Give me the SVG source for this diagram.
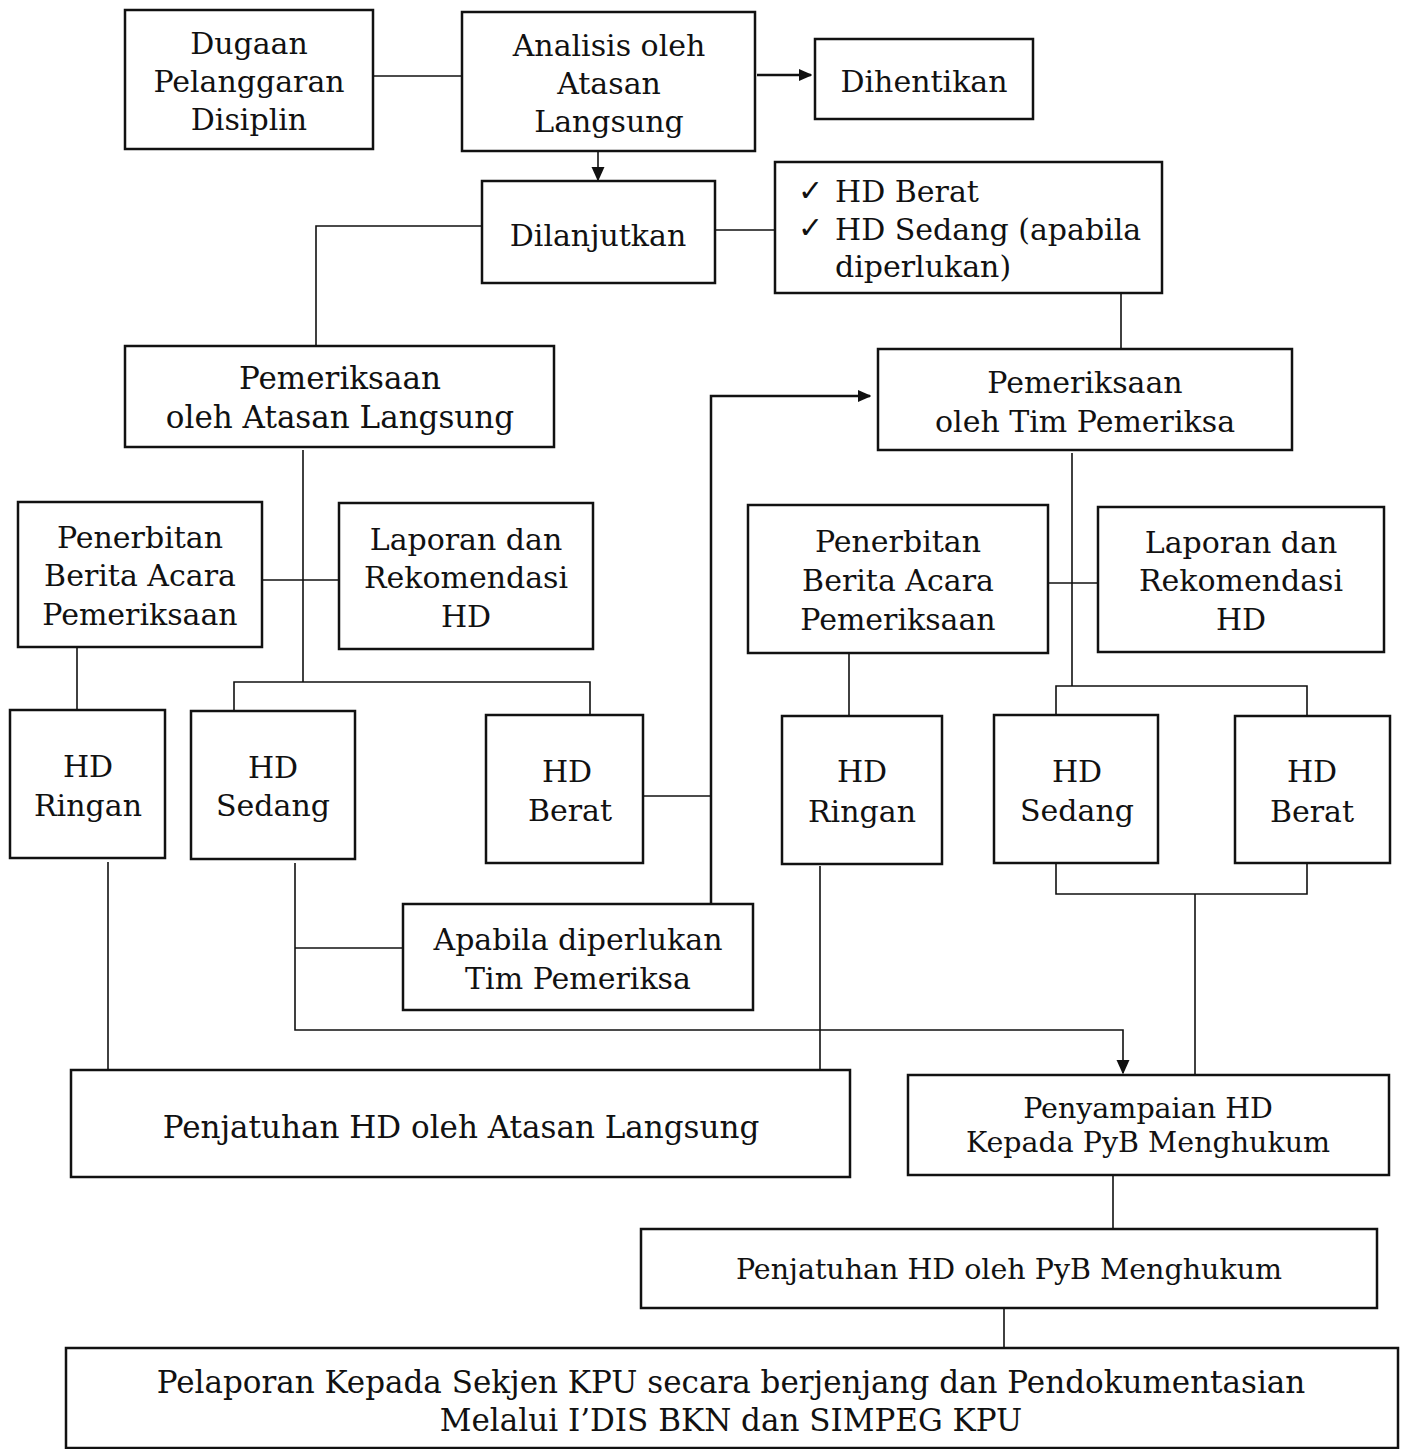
<svg xmlns="http://www.w3.org/2000/svg" width="1405" height="1449" viewBox="0 0 1405 1449">
<style>
.b{fill:#fff;stroke:#111;stroke-width:2.5}
.t{font-family:"DejaVu Serif","Liberation Serif",serif;font-size:30px;fill:#111;text-anchor:middle}
.s{font-size:28.5px}
.l{font-size:31px}
.c{fill:none;stroke:#111;stroke-width:1.6}
.a{fill:none;stroke:#111;stroke-width:2.5}
</style>
<defs>
<marker id="ar" viewBox="0 0 10 10" refX="9" refY="5" markerWidth="5.5" markerHeight="5.5" orient="auto" markerUnits="strokeWidth">
<path d="M0,0.5 L10,5 L0,9.5 z" fill="#111"/>
</marker>
<marker id="ar2" viewBox="0 0 10 10" refX="9" refY="5" markerWidth="9" markerHeight="9" orient="auto" markerUnits="strokeWidth">
<path d="M0,0.5 L10,5 L0,9.5 z" fill="#111"/>
</marker>
</defs>
<rect width="1405" height="1449" fill="#fff"/>
<g id="connectors">
<path class="c" d="M373,76 H462"/>
<path class="a" d="M757,75 H811" marker-end="url(#ar)"/>
<path class="c" d="M598,151 V180" marker-end="url(#ar2)"/>
<path class="c" d="M482,226 H316 V346"/>
<path class="c" d="M715,230 H775"/>
<path class="c" d="M1121,293 V349"/>
<path class="c" d="M303,450 V682"/>
<path class="c" d="M262,580 H339"/>
<path class="c" d="M234,711 V682 H590 V715"/>
<path class="c" d="M77,647 V710"/>
<path class="c" d="M643,796 H711"/>
<path class="a" d="M711,904 V396 H870" marker-end="url(#ar)"/>
<path class="c" d="M295,863 V1030 H1123 V1073" marker-end="url(#ar2)"/>
<path class="c" d="M295,948 H403"/>
<path class="c" d="M108,862 V1070"/>
<path class="c" d="M820,866 V1072"/>
<path class="c" d="M1072,453 V686"/>
<path class="c" d="M1048,583 H1098"/>
<path class="c" d="M1056,715 V686 H1307 V716"/>
<path class="c" d="M849,653 V716"/>
<path class="c" d="M1056,863 V894 H1307 V863"/>
<path class="c" d="M1195,894 V1075"/>
<path class="c" d="M1113,1175 V1229"/>
<path class="c" d="M1004,1308 V1348"/>
</g>
<g id="n1"><rect class="b" x="125" y="10" width="248" height="139"/><text class="t" x="249" y="54">Dugaan</text><text class="t" x="249" y="92">Pelanggaran</text><text class="t" x="249" y="130">Disiplin</text></g>
<g id="n2"><rect class="b" x="462" y="12" width="293" height="139"/><text class="t" x="609" y="56">Analisis oleh</text><text class="t" x="609" y="94">Atasan</text><text class="t" x="609" y="132">Langsung</text></g>
<g id="n3"><rect class="b" x="815" y="39" width="218" height="80"/><text class="t" x="924" y="92">Dihentikan</text></g>
<g id="n4"><rect class="b" x="482" y="181" width="233" height="102"/><text class="t" x="598" y="246">Dilanjutkan</text></g>
<g id="n5"><rect class="b" x="775" y="162" width="387" height="131"/>
<text class="t" x="810" y="201">✓</text><text class="t" x="835" y="202" style="text-anchor:start">HD Berat</text>
<text class="t" x="810" y="238">✓</text><text class="t" x="835" y="240" style="text-anchor:start">HD Sedang (apabila</text>
<text class="t" x="835" y="277" style="text-anchor:start">diperlukan)</text></g>
<g id="n6"><rect class="b" x="125" y="346" width="429" height="101"/><text class="t l" x="340" y="389">Pemeriksaan</text><text class="t l" x="340" y="428">oleh Atasan Langsung</text></g>
<g id="n7"><rect class="b" x="878" y="349" width="414" height="101"/><text class="t" x="1085" y="393">Pemeriksaan</text><text class="t" x="1085" y="432">oleh Tim Pemeriksa</text></g>
<g id="n8"><rect class="b" x="18" y="502" width="244" height="145"/><text class="t" x="140" y="548">Penerbitan</text><text class="t" x="140" y="586">Berita Acara</text><text class="t" x="140" y="625">Pemeriksaan</text></g>
<g id="n9"><rect class="b" x="339" y="503" width="254" height="146"/><text class="t" x="466" y="550">Laporan dan</text><text class="t" x="466" y="588">Rekomendasi</text><text class="t" x="466" y="627">HD</text></g>
<g id="n10"><rect class="b" x="748" y="505" width="300" height="148"/><text class="t" x="898" y="552">Penerbitan</text><text class="t" x="898" y="591">Berita Acara</text><text class="t" x="898" y="630">Pemeriksaan</text></g>
<g id="n11"><rect class="b" x="1098" y="507" width="286" height="145"/><text class="t" x="1241" y="553">Laporan dan</text><text class="t" x="1241" y="591">Rekomendasi</text><text class="t" x="1241" y="630">HD</text></g>
<g id="n12"><rect class="b" x="10" y="710" width="155" height="148"/><text class="t" x="88" y="777">HD</text><text class="t" x="88" y="816">Ringan</text></g>
<g id="n13"><rect class="b" x="191" y="711" width="164" height="148"/><text class="t" x="273" y="778">HD</text><text class="t" x="273" y="816">Sedang</text></g>
<g id="n14"><rect class="b" x="486" y="715" width="157" height="148"/><text class="t" x="567" y="782">HD</text><text class="t" x="570" y="821">Berat</text></g>
<g id="n15"><rect class="b" x="782" y="716" width="160" height="148"/><text class="t" x="862" y="782">HD</text><text class="t" x="862" y="822">Ringan</text></g>
<g id="n16"><rect class="b" x="994" y="715" width="164" height="148"/><text class="t" x="1077" y="782">HD</text><text class="t" x="1077" y="821">Sedang</text></g>
<g id="n17"><rect class="b" x="1235" y="716" width="155" height="147"/><text class="t" x="1312" y="782">HD</text><text class="t" x="1312" y="822">Berat</text></g>
<g id="n18"><rect class="b" x="403" y="904" width="350" height="106"/><text class="t" x="578" y="950">Apabila diperlukan</text><text class="t" x="578" y="989">Tim Pemeriksa</text></g>
<g id="n19"><rect class="b" x="71" y="1070" width="779" height="107"/><text class="t l" x="461" y="1138">Penjatuhan HD oleh Atasan Langsung</text></g>
<g id="n20"><rect class="b" x="908" y="1075" width="481" height="100"/><text class="t s" x="1148" y="1118">Penyampaian HD</text><text class="t s" x="1148" y="1152">Kepada PyB Menghukum</text></g>
<g id="n21"><rect class="b" x="641" y="1229" width="736" height="79"/><text class="t s" x="1009" y="1279">Penjatuhan HD oleh PyB Menghukum</text></g>
<g id="n22"><rect class="b" x="66" y="1348" width="1332" height="100"/><text class="t l" x="731" y="1393">Pelaporan Kepada Sekjen KPU secara berjenjang dan Pendokumentasian</text><text class="t l" x="731" y="1431">Melalui I’DIS BKN dan SIMPEG KPU</text></g>
</svg>
